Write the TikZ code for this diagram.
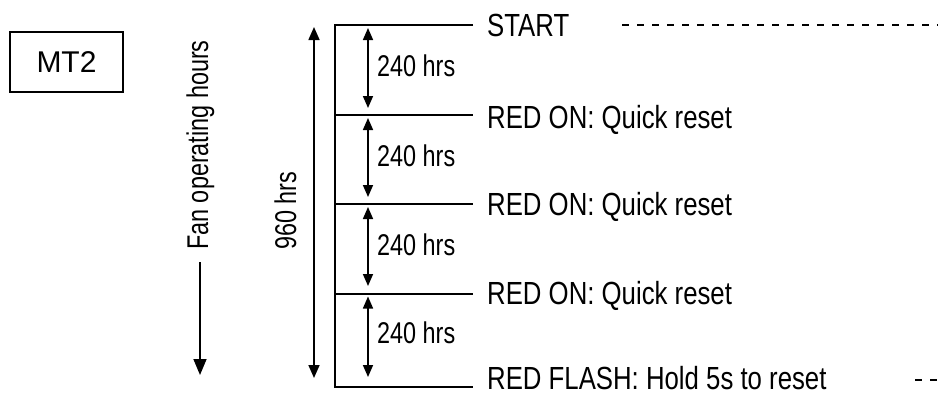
\documentclass[tikz,border=0pt]{standalone}
\usepackage{fontspec}
\setmainfont{Liberation Sans}
\newfontfamily\narrowf{Liberation Sans}[FakeStretch=0.805]
\newfontfamily\narrowg{Liberation Sans}[FakeStretch=0.78]
\usetikzlibrary{arrows.meta}
\begin{document}
\begin{tikzpicture}[x=1pt,y=-1pt,
  mainline/.style={line width=2pt},
  dimarrow/.style={line width=1.6pt,{Triangle[width=10pt,length=12pt]}-{Triangle[width=10pt,length=12pt]}},
  bigarrow/.style={line width=1.6pt,{Triangle[width=11pt,length=13pt]}-{Triangle[width=11pt,length=13pt]}},
  fanarrow/.style={line width=1.6pt,-{Triangle[width=13pt,length=16pt]}},
  dashline/.style={line width=1.3pt,dash pattern=on 7pt off 8pt},
  lab/.style={inner sep=0pt,anchor=base west,font=\narrowf\fontsize{32}{38}\selectfont},
  hrs/.style={inner sep=0pt,anchor=base west,font=\narrowg\fontsize{30}{36}\selectfont},
  rot/.style={inner sep=0pt,anchor=base west,rotate=90,font=\narrowg\fontsize{30}{36}\selectfont},
  titlebox/.style={draw,line width=1.5pt,minimum width=113pt,minimum height=60pt,inner sep=0pt,font=\fontsize{30}{36}\selectfont}
]
\useasboundingbox (0,0) rectangle (938,394);

% title box
\node[titlebox] (mt) at (66.5,62) {MT2};

% rotated labels
\node[rot] (fan) at (208,250) {Fan operating hours};
\coordinate (fanA) at (200,262);
\coordinate (fanB) at (200,375);
\draw[fanarrow] (fanA) -- (fanB);

\node[rot] (total) at (296,250) {960 hrs};
\coordinate (bigA) at (314,27);
\coordinate (bigB) at (314,378);
\draw[bigarrow] (bigA) -- (bigB);

% ladder
\coordinate (v0) at (335,25);   \coordinate (h0) at (473,25);
\coordinate (v1) at (335,115);  \coordinate (h1) at (473,115);
\coordinate (v2) at (335,204);  \coordinate (h2) at (473,204);
\coordinate (v3) at (335,293.5);\coordinate (h3) at (473,293.5);
\coordinate (v4) at (335,387);  \coordinate (h4) at (473,387);
\draw[mainline] (h0) -- (v0) -- (v4) -- (h4);
\draw[mainline] (v1) -- (h1);
\draw[mainline] (v2) -- (h2);
\draw[mainline] (v3) -- (h3);

% interval arrows
\coordinate (a1) at (368,28);    \coordinate (b1) at (368,108);
\coordinate (a2) at (368,118);   \coordinate (b2) at (368,197);
\coordinate (a3) at (368,207);   \coordinate (b3) at (368,286);
\coordinate (a4) at (368,296.5); \coordinate (b4) at (368,377);
\draw[dimarrow] (a1) -- (b1);
\draw[dimarrow] (a2) -- (b2);
\draw[dimarrow] (a3) -- (b3);
\draw[dimarrow] (a4) -- (b4);
\node[hrs] (d1) at (377,76)  {240 hrs};
\node[hrs] (d2) at (377,166) {240 hrs};
\node[hrs] (d3) at (377,255) {240 hrs};
\node[hrs] (d4) at (377,343) {240 hrs};

% event labels
\node[lab] (e0) at (487,36)  {START};
\node[lab] (e1) at (487,128) {RED ON: Quick reset};
\node[lab] (e2) at (487,215) {RED ON: Quick reset};
\node[lab] (e3) at (487,304) {RED ON: Quick reset};
\node[lab] (e4) at (487,389) {RED FLASH: Hold 5s to reset};

% dashed leaders (cropped)
\coordinate (s0) at (622,25);  \coordinate (s1) at (938,25);
\coordinate (f0) at (915,380); \coordinate (f1) at (938,380);
\draw[dashline] (s0) -- (s1);
\draw[dashline] (f0) -- (f1);
\end{tikzpicture}
\end{document}
